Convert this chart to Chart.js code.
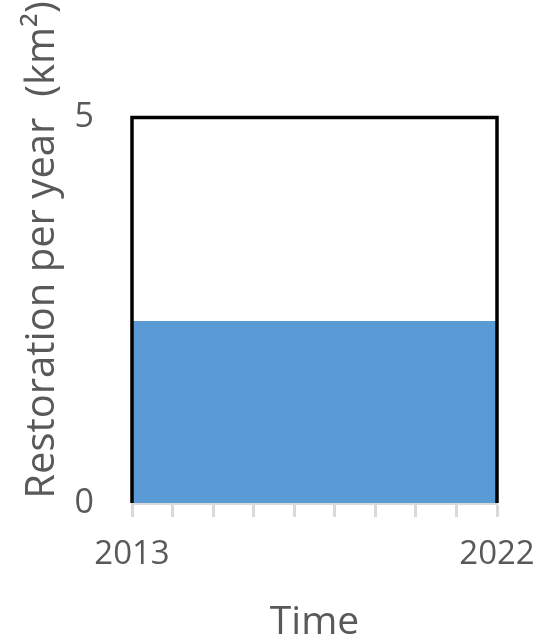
<!DOCTYPE html>
<html>
<head>
<meta charset="utf-8">
<script src="https://cdn.jsdelivr.net/npm/chart.js@4/dist/chart.umd.min.js"></script>
<style>
  html, body { margin: 0; padding: 0; background: #ffffff; }
  #wrap { width: 537px; height: 640px; }
</style>
</head>
<body>
<div id="wrap"><canvas id="c" width="537" height="640"></canvas></div>
<script>
// ---- data ----
const years = [2013, 2022];
const restoration = [2.36, 2.36];          // km² per year (constant)
const boxYears = [2013, 2013, 2022, 2022]; // black frame outline
const boxValues = [0, 5, 5, 0];
const xTickLabels = [2013, 2022];
const yTickValues = [0, 5];
const xTitle = 'Time';
const yTitle = 'Restoration per year  (km\u00B2)';

const textColor = '#595959';
const fontFamily = '"Open Sans", "Liberation Sans", sans-serif';

// draws the y-axis title (offset upward like the original)
const yTitlePlugin = {
  id: 'yTitlePlugin',
  afterDraw(chart) {
    const c = chart.ctx;
    c.save();
    c.font = '40px ' + fontFamily;
    c.fillStyle = textColor;
    c.textAlign = 'center';
    c.textBaseline = 'alphabetic';
    c.translate(54, 250);
    c.rotate(-Math.PI / 2);
    c.fillText(yTitle, 0, 0);
    c.restore();
  }
};

const ctx = document.getElementById('c').getContext('2d');
new Chart(ctx, {
  type: 'line',
  plugins: [yTitlePlugin],
  data: {
    datasets: [
      {
        label: 'frame',
        data: boxYears.map((x, i) => ({ x: x, y: boxValues[i] })),
        borderColor: '#000000',
        borderWidth: 3.5,
        pointRadius: 0,
        fill: false,
        tension: 0,
        clip: false,
        borderJoinStyle: 'miter',
        order: 0
      },
      {
        label: 'restoration',
        data: years.map((x, i) => ({ x: x, y: restoration[i] })),
        borderWidth: 0,
        borderColor: 'rgba(0,0,0,0)',
        backgroundColor: '#5b9bd5',
        pointRadius: 0,
        fill: 'origin',
        tension: 0,
        order: 1
      }
    ]
  },
  options: {
    responsive: false,
    animation: false,
    devicePixelRatio: 1,
    layout: { padding: { top: 117.5, right: 40, bottom: 0, left: 0 } },
    plugins: { legend: { display: false }, tooltip: { enabled: false } },
    scales: {
      x: {
        type: 'linear',
        min: 2013,
        max: 2022,
        afterFit: (s) => { s.height = 137; s.paddingLeft = 0; s.paddingRight = 0; },
        afterBuildTicks: (s) => {
          const t = [];
          for (let v = xTickLabels[0]; v <= xTickLabels[xTickLabels.length - 1]; v++) t.push({ value: v });
          s.ticks = t;
        },
        border: { display: true, color: '#d9d9d9', width: 3 },
        grid: {
          display: true,
          drawOnChartArea: false,
          drawTicks: true,
          tickLength: 14,
          tickWidth: 3,
          color: '#d9d9d9'
        },
        ticks: {
          autoSkip: false,
          maxRotation: 0,
          padding: 18,
          color: textColor,
          font: { family: fontFamily, size: 33 },
          callback: (v) => xTickLabels.includes(v) ? String(v) : ''
        },
        title: {
          display: true,
          text: xTitle,
          color: textColor,
          font: { family: fontFamily, size: 39 },
          padding: { top: 0, bottom: -6 }
        }
      },
      y: {
        type: 'linear',
        min: 0,
        max: 5,
        afterFit: (s) => { s.width = 132; s.paddingTop = 0; s.paddingBottom = 0; },
        afterBuildTicks: (s) => { s.ticks = yTickValues.map(v => ({ value: v })); },
        border: { display: false },
        grid: { display: false },
        ticks: {
          padding: 30,
          color: textColor,
          font: { family: fontFamily, size: 34 }
        },
        title: { display: false }
      }
    }
  }
});
</script>
</body>
</html>
